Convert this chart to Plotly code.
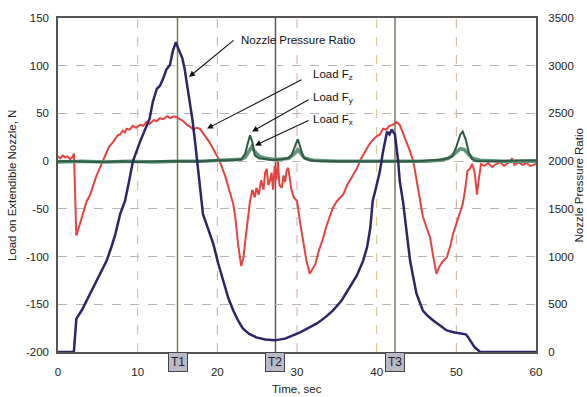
import plotly.graph_objects as go

# ---------------- data ----------------
# Nozzle pressure ratio (right axis)
t_npr = [0, 1.8, 2.0, 2.3, 3.0, 3.6, 4.2, 4.85, 5.5, 6.1, 6.7, 7.2, 7.8, 8.4, 8.9, 9.4,
         10.3, 10.9, 11.5, 11.9, 12.4, 12.8, 13.2, 13.6, 14.05, 14.4, 14.8, 15.0, 15.3,
         15.6, 15.9, 16.2, 16.6, 16.9, 17.2, 17.8, 18.2, 18.8, 19.5, 20.1, 20.8, 21.4,
         22.0, 22.6, 23.2, 24.0, 24.9, 26.0, 27.2, 28.5, 30.4, 31.5, 32.5, 33.5, 34.5,
         35.6, 36.6, 37.5, 38.3, 38.8, 39.2, 39.5, 40.0, 40.4, 40.8, 41.3, 41.6, 41.9,
         42.3, 42.7, 42.9, 43.3, 43.7, 44.2, 44.6, 45.0, 45.8, 46.4, 47.1, 48.0, 48.8,
         49.8, 50.8, 51.2, 51.5, 51.9, 52.3, 53.0, 60.0]
npr = [0, 0, 10, 348, 440, 538, 640, 746, 850, 955, 1100, 1236, 1445, 1580, 1780, 1998,
       2205, 2320, 2445, 2620, 2757, 2790, 2865, 2960, 3008, 3150, 3247, 3200, 3142,
       3080, 2966, 2800, 2622, 2420, 2205, 1755, 1445, 1300, 1132, 930, 715, 560,
       434, 330, 246, 190, 153, 132, 122, 140, 205, 250, 299, 360, 434,
       540, 673, 800, 955, 1100, 1299, 1580, 1750, 1893, 2101, 2309, 2280, 2330,
       2278, 1997, 1789, 1580, 1300, 955, 780, 611, 434, 380, 330, 270, 226,
       205, 195, 185, 153, 100, 49, 0, 0]

# Load Fz (left axis, N)
t_fz = [0.0, 0.3, 0.6, 0.9, 1.2, 1.5, 1.8, 2.0, 2.1, 2.3, 2.6, 3.0, 3.3, 3.6, 4.0, 4.4,
        4.8, 5.2, 5.65, 6.0, 6.4, 6.9, 7.2, 7.5, 7.8, 8.1, 8.4, 8.6, 9.0, 9.4, 9.8,
        10.3, 10.7, 11.1, 11.5, 12.0, 12.4, 12.8, 13.2, 13.7, 14.1, 14.5, 14.9, 15.3,
        15.7, 16.2, 16.6, 17.0, 17.4, 17.8, 18.3, 18.7, 19.0, 19.6, 20.3, 21.0, 21.6,
        22.0, 22.3, 22.6, 23.0, 23.3, 23.5, 23.8, 24.1, 24.4, 24.7, 24.9, 25.2, 25.5,
        25.8, 26.0, 26.2, 26.4, 26.6, 26.8, 27.0, 27.2, 27.4, 27.6, 27.8, 28.1, 28.3,
        28.5, 28.7, 28.9, 29.1, 29.3, 29.6, 30.0, 30.4, 30.8, 31.2, 31.6, 32.0, 32.3,
        32.7, 33.0, 33.3, 33.7, 34.1, 34.5, 35.0, 35.4, 35.8, 36.3, 36.8, 37.2, 37.5,
        38.0, 38.4, 38.7, 39.1, 39.5, 40.0, 40.4, 40.8, 41.2, 41.6, 42.0, 42.5, 42.9,
        43.3, 43.8, 44.2, 44.6, 45.0, 45.4, 45.8, 46.2, 46.7, 47.1, 47.5, 47.9, 48.3,
        48.8, 49.2, 49.6, 50.0, 50.4, 50.8, 51.1, 51.4, 51.7, 52.0, 52.3, 52.6, 52.8,
        53.1, 53.5, 54.0, 54.5, 55.0, 55.5, 56.0, 56.5, 57.0, 57.3, 57.8, 58.3, 58.8,
        59.3, 60.0]
fz = [5, 3, 6, 4, 5, 2, 4, 8, -20, -78, -70, -58, -50, -42, -36, -25,
      -16, -8, 0, 8, 15, 20, 24, 27, 28, 32, 30, 34, 33, 37, 35,
      38, 37, 41, 39, 43, 42, 45, 44, 47, 45, 47, 46, 44,
      42, 38, 36, 33, 35, 34, 28, 24, 20, 11, 0, -16, -35,
      -45, -62, -87, -110, -100, -84, -62, -42, -30, -38, -28, -35, -20,
      -30, -12, -8, -25, -21, -12, -30, -5, -20, 0, -25, -28, -15,
      -22, -10, -7, -20, -30, -38, -42, -65, -84, -105, -118, -112, -108,
      -95, -88, -80, -68, -58, -49, -42, -38, -35, -25, -18, -12, -8,
      2, 8, 13, 18, 22, 26, 28, 34, 33, 37, 38, 41, 38,
      30, 20, 10, 0, -20, -42, -58, -68, -80, -100, -118, -110, -105,
      -101, -90, -76, -65, -55, -45, -30, -10, -8, -3, -12, -35, -20,
      -3, -5, -2, -6, -3, -1, -5, -2, 3, -4, -1, -4, -2,
      -5, -3]

# Load Fy (left axis, N)
t_fy = [0, 2, 5, 8, 10, 13, 16, 18, 20, 22, 23, 23.5, 23.8, 24.1, 24.4, 24.7, 25.2, 26,
        27, 28, 28.8, 29.3, 29.7, 30.1, 30.4, 30.8, 31.5, 33, 36, 38, 40, 42, 45, 47,
        48.5, 49.5, 50.0, 50.5, 50.8, 51.2, 51.6, 52.0, 52.5, 55, 60]
fy = [0, 0, -1, 0, -1, 0, 0, 0, 1, 1, 2, 8, 18, 27, 20, 6, 3, 2,
      1, 2, 3, 6, 14, 23, 15, 4, 1, 0, 0, 0, 0, 0, 0, 1,
      2, 5, 15, 28, 31, 22, 8, 2, 0, 0, 1]

# Load Fx (left axis, N)
t_fx = [0, 3, 6, 9, 12, 15, 18, 21, 23, 23.5, 24.0, 24.3, 24.7, 25.3, 26, 27, 28, 29,
        29.7, 30.1, 30.5, 31, 32, 35, 38, 41, 44, 46, 48, 49, 49.8, 50.5, 51.0, 51.5,
        52, 53, 56, 60]
fx = [-1, 0, -1, 0, -1, 0, 0, 1, 2, 4, 12, 15, 10, 5, 3, 2, 2, 3,
      8, 12, 8, 3, 1, 0, 0, 0, 0, 0, 1, 3, 8, 13, 12, 8,
      3, 1, 0, 0]

# event markers
event_names = ["T1", "T2", "T3"]
event_times = [15.0, 27.3, 42.3]

x_ticks = [0, 10, 20, 30, 40, 50, 60]
y_ticks = [-200, -150, -100, -50, 0, 50, 100, 150]
y2_ticks = [0, 500, 1000, 1500, 2000, 2500, 3000, 3500]

FONT = "Liberation Sans, Arial, sans-serif"

fig = go.Figure()
fig.add_trace(go.Scatter(x=t_fz, y=fz, mode="lines", line=dict(color="#e8423f", width=2),
                         name="Load Fz"))
fig.add_trace(go.Scatter(x=t_fx, y=fx, mode="lines", line=dict(color="#5f957a", width=3.5),
                         name="Load Fx"))
fig.add_trace(go.Scatter(x=t_fy, y=fy, mode="lines", line=dict(color="#2f5a44", width=2),
                         name="Load Fy"))
fig.add_trace(go.Scatter(x=t_npr, y=npr, mode="lines", line=dict(color="#2e2468", width=2.5),
                         name="Nozzle Pressure Ratio", yaxis="y2"))

# vertical dashed gridlines with their own tints
vcolors = {10: "#cbbd93", 20: "#b9aac4", 30: "#d9a3b3", 40: "#d2c385", 50: "#c9b394"}
shapes = []
for xv, c in vcolors.items():
    shapes.append(dict(type="line", xref="x", yref="paper", x0=xv, x1=xv, y0=0, y1=1,
                       line=dict(color=c, width=1, dash="dash"), layer="below"))
ev_colors = ["#6d8256", "#5a5a5a", "#76765e"]
for tv, c in zip(event_times, ev_colors):
    shapes.append(dict(type="line", xref="x", yref="paper", x0=tv, x1=tv, y0=0, y1=1,
                       line=dict(color=c, width=1.5), layer="below"))

annotations = []
for name, tv in zip(event_names, event_times):
    annotations.append(dict(x=tv, y=0, xref="x", yref="paper", yanchor="top", text=name,
                            showarrow=False, bgcolor="#b9b9c9", bordercolor="#444",
                            borderwidth=1, borderpad=2,
                            font=dict(family=FONT, size=12, color="#222")))

# callout arrows (head -> tail in data coords)
arrows = [
    (16.44, 88.2, 22.22, 127.8),
    (18.70, 34.1, 30.75, 86.1),
    (24.35, 31.0, 31.63, 65.3),
    (24.73, 16.4, 31.63, 43.4),
]
for hx, hy, tx, ty in arrows:
    annotations.append(dict(x=hx, y=hy, ax=tx, ay=ty, xref="x", yref="y", axref="x", ayref="y",
                            text="", showarrow=True, arrowhead=2, arrowsize=1.1,
                            arrowwidth=1.1, arrowcolor="#111", standoff=0, startstandoff=0))
labels = [
    ("Nozzle Pressure Ratio", 22.72, 126.8),
    ("Load F<sub>z</sub>", 31.76, 90.5),
    ("Load F<sub>y</sub>", 31.76, 66.5),
    ("Load F<sub>x</sub>", 31.76, 43.6),
]
for txt, lx, ly in labels:
    annotations.append(dict(x=lx, y=ly, xref="x", yref="y", xanchor="left", yanchor="middle",
                            text=txt, showarrow=False,
                            font=dict(family=FONT, size=11.5, color="#111")))

# axis titles
annotations.append(dict(x=-0.096, y=0.5, xref="paper", yref="paper", textangle=-90,
                        xanchor="center", yanchor="middle",
                        text="Load on Extendible Nozzle, N", showarrow=False,
                        font=dict(family=FONT, size=11.5, color="#222")))
annotations.append(dict(x=1.091, y=0.5, xref="paper", yref="paper", textangle=-90,
                        xanchor="center", yanchor="middle",
                        text="Nozzle Pressure Ratio", showarrow=False,
                        font=dict(family=FONT, size=11.5, color="#222")))
annotations.append(dict(x=0.5, y=-0.11, xref="paper", yref="paper", yanchor="middle",
                        xanchor="center",
                        text="Time, sec", showarrow=False,
                        font=dict(family=FONT, size=11.5, color="#222")))

fig.update_layout(
    width=587, height=397,
    margin=dict(l=58, r=51, t=16, b=45),
    paper_bgcolor="white", plot_bgcolor="white",
    showlegend=False,
    font=dict(family=FONT, size=11.5, color="#222"),
    xaxis=dict(range=[0, 60], tickvals=x_ticks, ticktext=[str(v) for v in x_ticks],
               showgrid=False, zeroline=False, showline=True, linecolor="#555", linewidth=1.5,
               mirror=True, ticks="outside", ticklen=8, tickcolor="rgba(0,0,0,0)"),
    yaxis=dict(range=[-200, 150], tickvals=y_ticks, ticktext=[str(v) for v in y_ticks],
               showgrid=True, gridcolor="#b5b5b5", griddash="dash", gridwidth=1,
               zeroline=False, showline=True, linecolor="#555", linewidth=1.5, mirror=True,
               ticks="outside", ticklen=5, tickcolor="rgba(0,0,0,0)"),
    yaxis2=dict(range=[0, 3500], tickvals=y2_ticks, ticktext=[str(v) for v in y2_ticks],
                overlaying="y", side="right", showgrid=False, zeroline=False,
                showline=False, ticks="outside", ticklen=9, tickcolor="rgba(0,0,0,0)"),
    shapes=shapes,
    annotations=annotations,
)

fig.write_html("out.html", config={"displayModeBar": False},
               post_script="document.body.style.margin='0px';")
